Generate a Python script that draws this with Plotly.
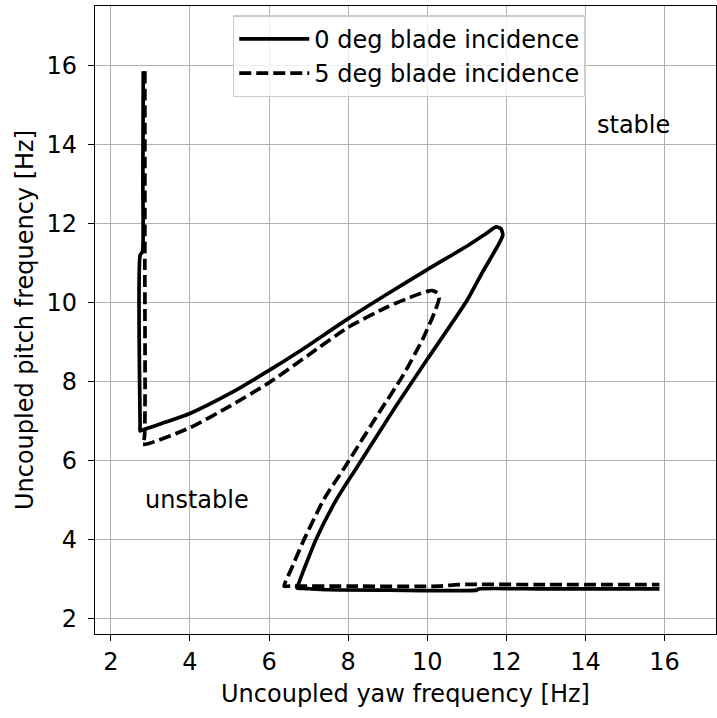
import plotly.graph_objects as go

# Stability boundary, 0 deg blade incidence (solid)
yaw_0deg = [2.82, 2.81, 2.80, 2.74, 2.74, 2.74, 2.85, 3.3, 4.0, 5.0, 6.0, 6.84, 8.0, 9.0, 10.0,
            11.06, 11.5, 11.74, 11.86, 11.91, 11.82, 11.4, 11.0, 10.0, 9.21, 8.19,
            7.72, 7.19, 6.9, 6.75, 6.71, 6.85, 7.5, 9.0, 11.25, 11.3, 13.0, 15.87]
pitch_0deg = [15.86, 13.0, 11.3, 11.2, 6.9, 6.76, 6.8, 6.95, 7.2, 7.7, 8.29, 8.82, 9.6, 10.23, 10.84,
              11.47, 11.76, 11.92, 11.88, 11.72, 11.51, 10.78, 10.05, 8.57, 7.39, 5.79,
              5.05, 4.02, 3.3, 2.9, 2.78, 2.775, 2.74, 2.73, 2.73, 2.76, 2.76, 2.76]

# Stability boundary, 5 deg blade incidence (dashed)
yaw_5deg = [2.86, 2.86, 2.85, 2.82, 2.80, 2.96, 4.0, 5.0, 6.0, 7.0, 8.0, 9.0, 9.6, 10.0, 10.13,
            10.25, 10.3, 10.18, 9.88, 9.38, 8.78, 7.94, 7.39, 6.89, 6.56, 6.42, 6.38, 6.5,
            8.0, 10.3, 10.8, 13.0, 15.87]
pitch_5deg = [15.86, 11.0, 6.6, 6.47, 6.42, 6.44, 6.84, 7.38, 7.98, 8.68, 9.38, 9.9, 10.15, 10.29, 10.31,
              10.25, 10.12, 9.75, 9.07, 8.15, 7.22, 5.88, 5.03, 4.02, 3.26, 2.95, 2.83, 2.83,
              2.83, 2.83, 2.87, 2.87, 2.87]

series_names = ["0 deg blade incidence", "5 deg blade incidence"]
tick_vals = [2, 4, 6, 8, 10, 12, 14, 16]
region_labels = ["stable", "unstable"]
region_x = [15.22, 4.18]
region_y = [14.5, 5.0]

FONT = "DejaVu Sans"
FS = 24

fig = go.Figure()
fig.add_trace(go.Scatter(x=yaw_0deg, y=pitch_0deg, mode="lines", name=series_names[0],
                         line=dict(color="black", width=3.7, shape="spline", smoothing=0.6)))
fig.add_trace(go.Scatter(x=yaw_5deg, y=pitch_5deg, mode="lines", name=series_names[1],
                         line=dict(color="black", width=3.7, dash="12px,5px",
                                   shape="spline", smoothing=0.6)))

for t, xx, yy in zip(region_labels, region_x, region_y):
    fig.add_annotation(x=xx, y=yy, text=t, showarrow=False,
                       font=dict(family=FONT, size=FS, color="black"))

axis_common = dict(
    showline=True, linecolor="black", linewidth=1.4, mirror=True,
    ticks="outside", ticklen=6, tickwidth=1.4, tickcolor="black",
    showgrid=True, gridcolor="#b0b0b0", gridwidth=1.4,
    zeroline=False, tickvals=tick_vals,
    tickfont=dict(family=FONT, size=FS, color="black"),
)

fig.update_layout(
    width=717, height=718,
    margin=dict(l=95, r=1, t=6, b=84),
    paper_bgcolor="white", plot_bgcolor="white",
    font=dict(family=FONT, size=FS, color="black"),
    xaxis=dict(range=[1.6, 17.3], title=dict(text="Uncoupled yaw frequency [Hz]",
                                             font=dict(family=FONT, size=FS), standoff=10),
               **axis_common),
    yaxis=dict(range=[1.62, 17.51], ticklabelstandoff=6,
               title=dict(text="Uncoupled pitch frequency [Hz]",
                          font=dict(family=FONT, size=FS), standoff=6),
               **axis_common),
    legend=dict(x=0.222, y=0.985, xanchor="left", yanchor="top",
                bgcolor="rgba(255,255,255,0.8)", bordercolor="#cccccc", borderwidth=1.4,
                font=dict(family=FONT, size=FS), tracegroupgap=0, itemwidth=70),
    showlegend=True,
)

fig.write_html("out.html")
